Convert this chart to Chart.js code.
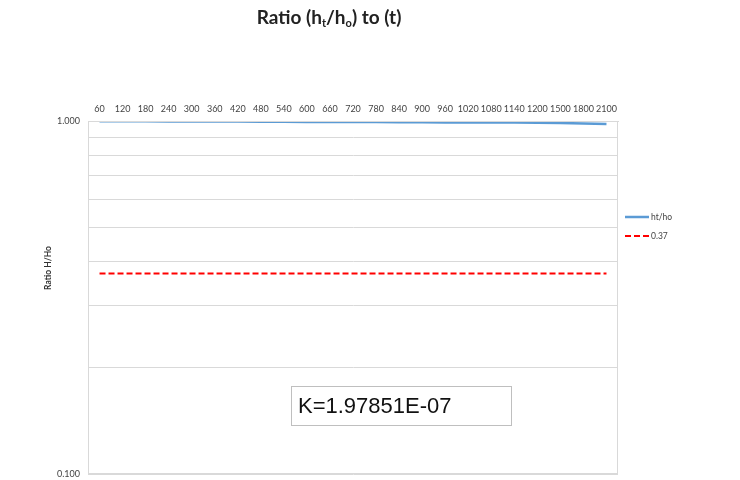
<!DOCTYPE html>
<html>
<head>
<meta charset="utf-8">
<script src="https://cdn.jsdelivr.net/npm/chart.js@4.4.1/dist/chart.umd.min.js"></script>
<style>
  body { margin: 0; background: #fff; }
  #wrap { position: relative; width: 740px; height: 480px; }
  #my-chart { display: block; }
  #title {
    position: absolute; left: 0; top: 5px; width: 658px; text-align: center;
    font: bold 19px Lato, 'Open Sans', sans-serif; color: #222;
  }
  #title sub { font-size: 11px; vertical-align: -3px; }
</style>
</head>
<body>
<div id="wrap">
  <canvas id="my-chart" width="740" height="480"></canvas>
  <div id="title">Ratio (h<sub>t</sub>/h<sub>o</sub>) to (t)</div>
</div>
<script>
'use strict';

/* DATA */
let times = ['60', '120', '180', '240', '300', '360', '420', '480', '540', '600', '660', '720',
  '780', '840', '900', '960', '1020', '1080', '1140', '1200', '1500', '1800', '2100'];
let ratio = [0.999, 0.998, 0.998, 0.997, 0.997, 0.996, 0.996, 0.995, 0.995, 0.994, 0.994, 0.993,
  0.993, 0.992, 0.992, 0.991, 0.991, 0.990, 0.990, 0.989, 0.987, 0.984, 0.981];
let limit = [0.37, 0.37, 0.37, 0.37, 0.37, 0.37, 0.37, 0.37, 0.37, 0.37, 0.37, 0.37,
  0.37, 0.37, 0.37, 0.37, 0.37, 0.37, 0.37, 0.37, 0.37, 0.37, 0.37];
let yTicks = [0.1, 0.2, 0.3, 0.4, 0.5, 0.6, 0.7, 0.8, 0.9, 1.0];
let yLabelled = [0.1, 1.0];
let kText = 'K=1.97851E-07';

/* DOM SELECTORS */
let canvasElem = document.getElementById('my-chart').getContext('2d');

/* EXTRAS: axis title, legend, K box, plot border */
let extras = {
  id: 'extras',
  afterDraw(chart) {
    let ctx = chart.ctx;
    let area = chart.chartArea;
    ctx.save();

    // plot border
    ctx.strokeStyle = '#d9d9d9';
    ctx.lineWidth = 1;
    ctx.strokeRect(area.left + 0.5, area.top + 0.5, area.width - 1, area.height - 1);

    // y axis title
    ctx.fillStyle = '#333';
    ctx.font = 'bold 8.5px Lato, sans-serif';
    ctx.textAlign = 'center';
    ctx.textBaseline = 'middle';
    ctx.translate(48, area.top + 147);
    ctx.rotate(-Math.PI / 2);
    ctx.fillText('Ratio H/Ho', 0, 0);
    ctx.restore();

    // legend
    ctx.save();
    ctx.font = '8.5px Lato, sans-serif';
    ctx.textBaseline = 'middle';
    ctx.textAlign = 'left';
    chart.data.datasets.forEach((ds, i) => {
      let y = area.top + 96 + i * 19;
      let x = area.right + 7;
      ctx.strokeStyle = ds.borderColor;
      ctx.lineWidth = ds.borderWidth;
      ctx.setLineDash(ds.borderDash || []);
      ctx.beginPath();
      ctx.moveTo(x, y);
      ctx.lineTo(x + 24, y);
      ctx.stroke();
      ctx.fillStyle = '#444';
      ctx.fillText(ds.label, x + 26, y);
    });
    ctx.setLineDash([]);

    // K text box
    let bx = area.left + 203;
    let by = area.top + 265;
    ctx.fillStyle = '#fff';
    ctx.fillRect(bx, by, 220, 39);
    ctx.strokeStyle = '#bfbfbf';
    ctx.lineWidth = 1;
    ctx.strokeRect(bx + 0.5, by + 0.5, 220, 39);
    ctx.fillStyle = '#111';
    ctx.font = '22px "Liberation Sans", Arial, sans-serif';
    ctx.textBaseline = 'middle';
    ctx.fillText(kText, bx + 7, by + 21);
    ctx.restore();
  },
};

/* CHART */
function renderChart() {
  Chart.defaults.font.family = 'Lato, sans-serif';
  Chart.defaults.color = '#444';

  let myChartObj = {
    type: 'line',
    data: {
      labels: times,
      datasets: [
        {
          label: 'ht/ho',
          data: ratio,
          borderColor: '#5b9bd5',
          backgroundColor: '#5b9bd5',
          borderWidth: 2.5,
          pointRadius: 0,
          tension: 0,
        },
        {
          label: '0.37',
          data: limit,
          borderColor: '#ff0000',
          backgroundColor: '#ff0000',
          borderWidth: 2,
          borderDash: [6, 3],
          pointRadius: 0,
        },
      ],
    },
    options: {
      responsive: false,
      animation: false,
      layout: {
        autoPadding: false,
        padding: { top: 0, right: 122, bottom: 6, left: 0 },
      },
      plugins: {
        legend: { display: false },
        tooltip: { enabled: false },
      },
      scales: {
        x: {
          position: 'top',
          offset: true,
          grid: { display: false, drawTicks: false },
          border: { color: '#d9d9d9' },
          ticks: {
            autoSkip: false,
            maxRotation: 0,
            padding: 7,
            font: { size: 9 },
          },
          afterFit(scale) {
            scale.height = 121;
          },
        },
        y: {
          type: 'logarithmic',
          min: 0.1,
          max: 1.0,
          grid: { color: '#d9d9d9', drawTicks: false },
          border: { color: '#d9d9d9' },
          afterBuildTicks(scale) {
            scale.ticks = yTicks.map((v) => ({ value: v }));
          },
          ticks: {
            autoSkip: false,
            padding: 8,
            font: { size: 9 },
            callback: (v) => (yLabelled.includes(v) ? v.toFixed(3) : ''),
          },
          afterFit(scale) {
            scale.width = 88;
            scale.paddingTop = 0;
            scale.paddingBottom = 0;
          },
        },
      },
    },
    plugins: [extras],
  };
  new Chart(canvasElem, myChartObj);
}
renderChart();
</script>
</body>
</html>
